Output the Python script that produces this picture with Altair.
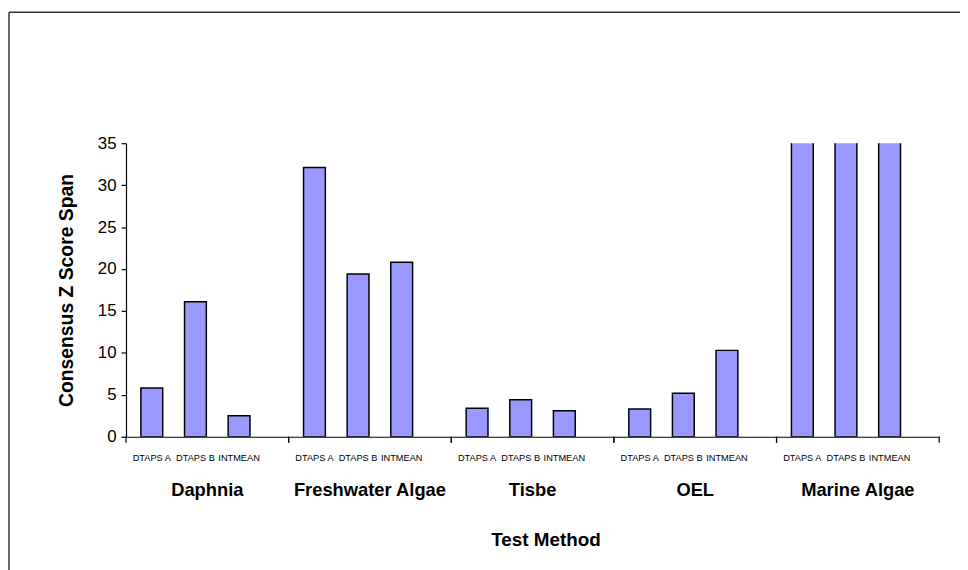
import altair as alt
import pandas as pd

groups = ["Daphnia", "Freshwater Algae", "Tisbe", "OEL", "Marine Algae"]
methods = ["DTAPS A", "DTAPS B", "INTMEAN"]
daphnia = [5.8, 16.1, 2.5]
freshwater_algae = [32.1, 19.4, 20.8]
tisbe = [3.4, 4.4, 3.1]
oel = [3.3, 5.2, 10.3]
marine_algae = [40.0, 40.0, 40.0]  # off the top of the 0-35 axis

series = [daphnia, freshwater_algae, tisbe, oel, marine_algae]
rows = []
for g, vals in zip(groups, series):
    for m, v in zip(methods, vals):
        rows.append({"group": g, "method": m, "value": v})
df = pd.DataFrame(rows)
gdf = pd.DataFrame({"group": groups})
one = pd.DataFrame({"k": [0]})

W, H = 820, 296
FONT = "Liberation Sans"

xscale = alt.Scale(domain=groups, paddingInner=0, paddingOuter=0)
offscale = alt.Scale(domain=methods, paddingInner=0.5, paddingOuter=0.614, align=0.278)

base = alt.Chart(df)

bars = base.mark_bar(color="#9999FF", stroke="#000000", strokeWidth=1.5, clip=True).encode(
    x=alt.X("group:N", scale=xscale, sort=groups,
            axis=alt.Axis(title="Test Method", ticks=False, domain=True, domainColor="#000000",
                          domainWidth=1.2, labelAngle=0, labelFont=FONT, labelFontSize=18.5,
                          labelFontWeight="bold", labelColor="#000000", labelPadding=44,
                          titleFont=FONT, titleFontSize=19, titleFontWeight="bold",
                          titleColor="#000000", titlePadding=32, titleX=W / 2 + 13)),
    xOffset=alt.XOffset("method:N", scale=offscale, sort=methods),
    y=alt.Y("value:Q", scale=alt.Scale(domain=[0, 35], nice=False),
            axis=alt.Axis(title="Consensus Z Score Span", values=[0, 5, 10, 15, 20, 25, 30, 35],
                          grid=False, domainColor="#000000", domainWidth=1.2,
                          tickColor="#000000", tickSize=5, tickWidth=1.2,
                          labelFont=FONT, labelFontSize=17, labelColor="#000000", labelPadding=5,
                          titleFont=FONT, titleFontSize=19.5, titleFontWeight="bold",
                          titleColor="#000000", titlePadding=21)),
)

sublabels = base.mark_text(font=FONT, fontSize=9.3, color="#000000", baseline="middle").encode(
    x=alt.X("group:N", scale=xscale, sort=groups),
    xOffset=alt.XOffset("method:N", scale=offscale, sort=methods),
    y=alt.value(H + 21),
    text="method:N",
)

ticks_left = alt.Chart(gdf).mark_rule(color="#000000", strokeWidth=1.2).encode(
    x=alt.X("group:N", scale=xscale, sort=groups, bandPosition=0),
    y=alt.value(H),
    y2=alt.value(H + 6),
)
ticks_right = alt.Chart(gdf).mark_rule(color="#000000", strokeWidth=1.2).encode(
    x=alt.X("group:N", scale=xscale, sort=groups, bandPosition=1),
    y=alt.value(H),
    y2=alt.value(H + 6),
)

frame_top = alt.Chart(one).mark_rule(color="#333333", strokeWidth=1.5).encode(
    x=alt.value(-118), x2=alt.value(W + 40), y=alt.value(-132)
)
frame_left = alt.Chart(one).mark_rule(color="#333333", strokeWidth=1.5).encode(
    x=alt.value(-118), y=alt.value(-132), y2=alt.value(H + 200)
)

chart = alt.layer(frame_top, frame_left, bars, ticks_left, ticks_right, sublabels).properties(
    width=W, height=H,
    autosize=alt.AutoSizeParams(type="none"),
    padding={"left": 119, "top": 134, "right": 21, "bottom": 132},
).configure_view(stroke=None)

chart.save("out.html", embed_options={"renderer": "svg", "actions": False})
